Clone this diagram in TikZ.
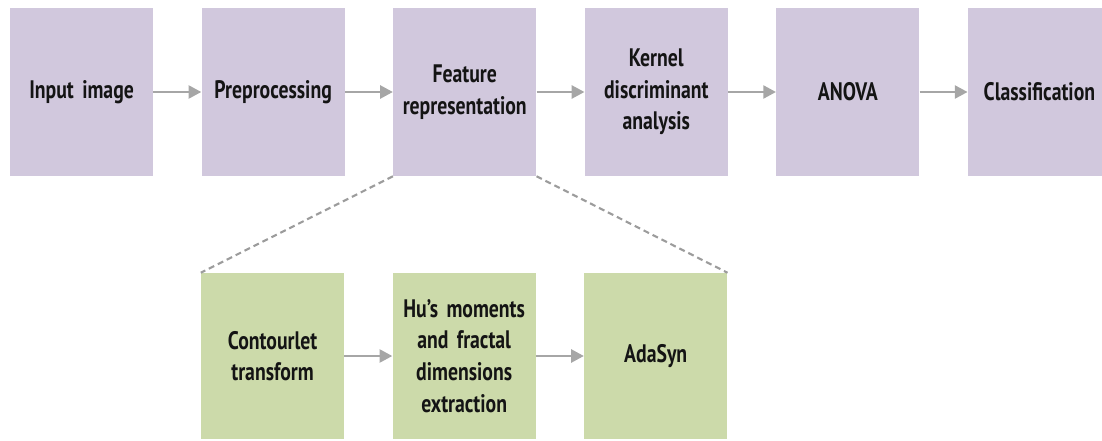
\documentclass[tikz,border=0pt]{standalone}
\usepackage{fontspec}
\setmainfont{PT Sans}[FakeStretch=0.78]
\usepackage{tikz}
\usetikzlibrary{arrows.meta,positioning}
\definecolor{stagepurple}{HTML}{D1C8DD}
\definecolor{substagegreen}{HTML}{CCDAAA}
\definecolor{arrowgray}{HTML}{A6A6A6}
\definecolor{dashgray}{HTML}{9C9C9C}
\tikzset{
  stage/.style={rectangle, minimum width=3.575cm, minimum height=4.2cm, text width=3.4cm, align=center, fill=stagepurple, font=\fontsize{18}{22.5}\selectfont\bfseries, text=black!92, inner sep=0pt},
  substage/.style={stage, fill=substagegreen, minimum height=4.15cm},
  arrow/.style={-{Triangle[length=0.32cm, width=0.32cm]}, line width=2.1pt, draw=arrowgray},
  zoomline/.style={dashed, dash pattern=on 0.15cm off 0.1cm, line width=1.5pt, draw=dashgray}
}
\begin{document}
\begin{tikzpicture}[x=1cm,y=1cm]
  \useasboundingbox (0,0) rectangle (27.55,-11);
  \node[stage] (input) at (2.04,-2.3) {Input image};
  \node[stage, right=1.2cm of input] (prep) {Preprocessing};
  \node[stage, right=1.2cm of prep] (feat) {Feature\\representation};
  \node[stage, right=1.2cm of feat] (kda) {Kernel\\discriminant\\analysis};
  \node[stage, right=1.2cm of kda] (anova) {ANOVA};
  \node[stage, right=1.2cm of anova] (class) {Classification};

  \node[substage] (contour) at (6.815,-8.9) {Contourlet\\transform};
  \node[substage, right=1.2cm of contour] (hu) {Hu’s moments\\and fractal\\dimensions\\extraction};
  \node[substage, right=1.2cm of hu] (adasyn) {AdaSyn};

  \draw[arrow] (input.east) -- (prep.west);
  \draw[arrow] (prep.east) -- (feat.west);
  \draw[arrow] (feat.east) -- (kda.west);
  \draw[arrow] (kda.east) -- (anova.west);
  \draw[arrow] (anova.east) -- (class.west);
  \draw[arrow] (contour.east) -- (hu.west);
  \draw[arrow] (hu.east) -- (adasyn.west);

  \draw[zoomline] (feat.south west) -- (contour.north west);
  \draw[zoomline] (feat.south east) -- (adasyn.north east);
\end{tikzpicture}
\end{document}
